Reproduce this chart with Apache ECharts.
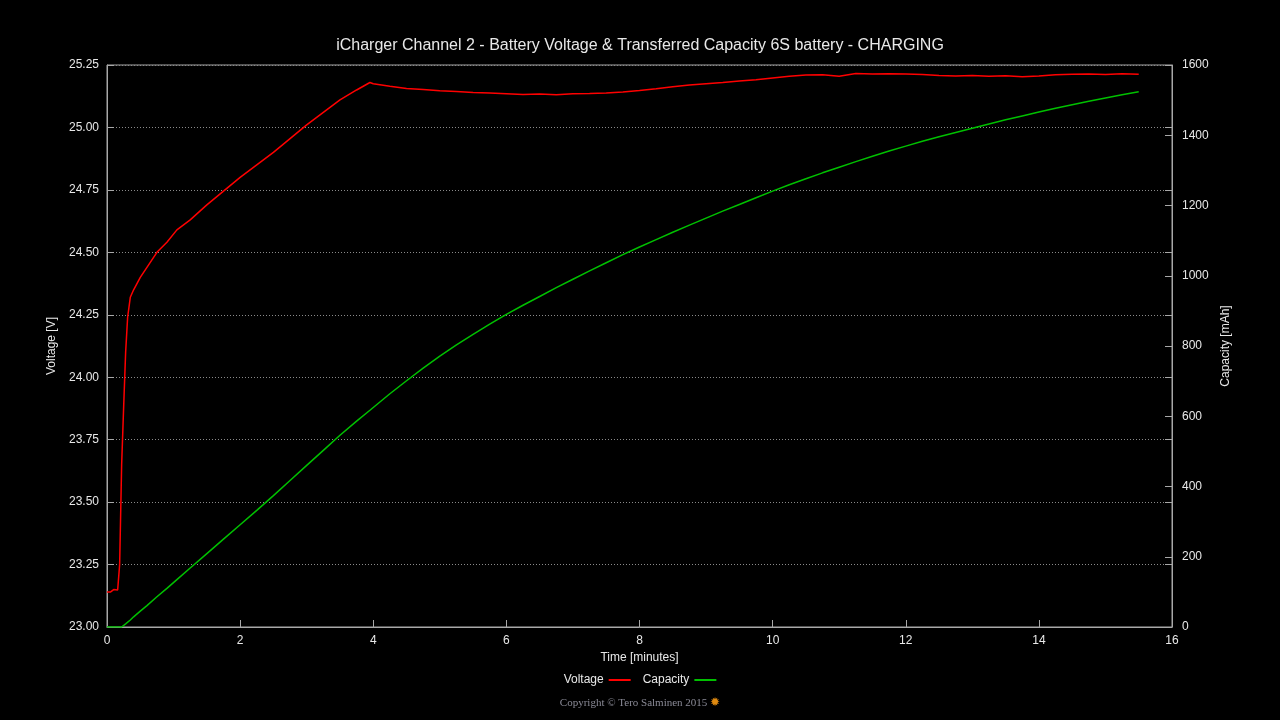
<!DOCTYPE html>
<html>
<head>
<meta charset="utf-8">
<script src="https://cdn.jsdelivr.net/npm/echarts@6/dist/echarts.min.js"></script>
<style>
html,body{margin:0;padding:0;background:#000;}
#c{width:1280px;height:720px;}
</style>
</head>
<body>
<div id="c"></div>
<script>
var titleText = 'iCharger Channel 2 - Battery Voltage & Transferred Capacity 6S battery - CHARGING';
var xName = 'Time [minutes]';
var yName = 'Voltage [V]';
var y2Name = 'Capacity [mAh]';
var seriesNames = ['Voltage', 'Capacity'];

var times = [0, 0.05, 0.1, 0.13, 0.16, 0.19, 0.22, 0.25, 0.28, 0.31, 0.35, 0.4, 0.5, 0.6, 0.75, 0.9, 1.05, 1.25,
  1.5, 1.75, 2, 2.25, 2.5, 2.75, 3, 3.25, 3.5, 3.75, 3.95, 4, 4.25, 4.5, 4.75, 5, 5.25, 5.5, 5.75, 6, 6.25,
  6.5, 6.75, 7, 7.25, 7.5, 7.75, 8, 8.25, 8.5, 8.75, 9, 9.25, 9.5, 9.75, 10, 10.25, 10.5, 10.75, 11, 11.25,
  11.5, 11.75, 12, 12.25, 12.5, 12.75, 13, 13.25, 13.5, 13.75, 14, 14.25, 14.5, 14.75, 15, 15.25, 15.5];

var voltage = [23.14, 23.14, 23.15, 23.155, 23.148, 23.25, 23.65, 23.88, 24.10, 24.24, 24.32, 24.35, 24.40, 24.44,
  24.50, 24.54, 24.59, 24.63, 24.69, 24.745, 24.80, 24.85, 24.90, 24.955, 25.01, 25.06, 25.11, 25.15, 25.18,
  25.175, 25.165, 25.156, 25.152, 25.147, 25.144, 25.140, 25.138, 25.135, 25.132, 25.134, 25.131, 25.135,
  25.136, 25.138, 25.142, 25.148, 25.155, 25.163, 25.170, 25.175, 25.180, 25.186, 25.191, 25.198, 25.205,
  25.210, 25.211, 25.205, 25.216, 25.214, 25.215, 25.214, 25.212, 25.208, 25.206, 25.208, 25.205, 25.207,
  25.203, 25.206, 25.211, 25.213, 25.214, 25.212, 25.215, 25.213];

var capacity = [0, 0, 0, 0, 0, 0, 0, 4, 9, 14, 20, 29, 45, 61, 86, 110, 135, 168, 209, 250, 291, 332, 374, 417,
  460, 503, 546, 586, 617, 625, 664, 701, 737, 771, 803, 833, 862, 890, 916, 941, 966, 990, 1014, 1037, 1060,
  1082, 1103, 1124, 1144, 1164, 1184, 1203, 1222, 1241, 1259, 1276, 1293, 1309, 1325, 1340, 1355, 1369, 1383,
  1396, 1408, 1420, 1432, 1444, 1455, 1466, 1477, 1487, 1497, 1506, 1515, 1524];

var copyrightText = 'Copyright \u00A9 Tero Salminen 2015 ';
var copyrightIcon = '\u2739';

var FONT = '"Liberation Sans", Arial, sans-serif';
var TXT = '#e8e8e8';
var AX = '#a8a8a8';

function pairs(xs, ys){ return xs.map(function(x,i){ return [x, ys[i]]; }); }

var chart = echarts.init(document.getElementById('c'), null, {renderer:'canvas'});
chart.setOption({
  backgroundColor: '#000',
  animation: false,
  textStyle: {fontFamily: FONT},
  title: {
    text: titleText, left: 'center', top: 33,
    textStyle: {color: TXT, fontSize: 16, fontWeight: 'normal', fontFamily: FONT}
  },
  legend: {
    data: seriesNames, left: 'center', top: 669, align: 'right',
    itemWidth: 22, itemHeight: 2, itemGap: 12, icon: 'rect',
    textStyle: {color: TXT, fontSize: 12, fontFamily: FONT}
  },
  grid: {left: 107, right: 108, top: 65, bottom: 93, show: true, borderColor: AX, borderWidth: 1},
  xAxis: {
    type: 'value', min: 0, max: 16, interval: 2,
    name: xName, nameLocation: 'middle', nameGap: 24,
    nameTextStyle: {color: TXT, fontSize: 12, fontFamily: FONT},
    axisLine: {show: true, lineStyle: {color: AX}},
    axisTick: {show: true, inside: true, length: 7, lineStyle: {color: AX}},
    axisLabel: {color: TXT, fontSize: 12, margin: 8, fontFamily: FONT},
    splitLine: {show: false}
  },
  yAxis: [{
    type: 'value', min: 23, max: 25.25, interval: 0.25, position: 'left',
    name: yName, nameLocation: 'middle', nameGap: 48, nameRotate: 90,
    nameTextStyle: {color: TXT, fontSize: 12, fontFamily: FONT},
    axisLine: {show: true, lineStyle: {color: AX}},
    axisTick: {show: true, inside: true, length: 7, lineStyle: {color: AX}},
    axisLabel: {color: TXT, fontSize: 12, margin: 8, fontFamily: FONT,
      formatter: function(v){ return v.toFixed(2); }},
    splitLine: {show: true, lineStyle: {color: '#8a8a8a', type: [1, 2], width: 1}}
  }, {
    type: 'value', min: 0, max: 1600, interval: 200, position: 'right',
    name: y2Name, nameLocation: 'middle', nameGap: 40, nameRotate: 90,
    nameTextStyle: {color: TXT, fontSize: 12, fontFamily: FONT},
    axisLine: {show: true, lineStyle: {color: AX}},
    axisTick: {show: true, inside: true, length: 7, lineStyle: {color: AX}},
    axisLabel: {color: TXT, fontSize: 12, margin: 10, fontFamily: FONT,
      formatter: function(v){ return String(v); }},
    splitLine: {show: false}
  }, {
    type: 'value', min: 23, max: 25.25, interval: 0.25, position: 'right',
    axisLine: {show: false},
    axisTick: {show: true, inside: true, length: 7, lineStyle: {color: AX}},
    axisLabel: {show: false},
    splitLine: {show: false}
  }],
  series: [{
    name: seriesNames[0], type: 'line', yAxisIndex: 0, showSymbol: false, symbol: 'none',
    data: pairs(times, voltage),
    lineStyle: {color: '#ff0000', width: 1.5}, itemStyle: {color: '#ff0000'}
  }, {
    name: seriesNames[1], type: 'line', yAxisIndex: 1, showSymbol: false, symbol: 'none',
    data: pairs(times, capacity),
    lineStyle: {color: '#00c000', width: 1.5}, itemStyle: {color: '#00c000'}
  }],
  graphic: [{
    type: 'text', left: 'center', top: 697,
    style: {
      text: '{a|' + copyrightText + '}{b|' + copyrightIcon + '}',
      rich: {
        a: {fill: '#8a8a96', fontSize: 11, fontFamily: '"Liberation Serif", "DejaVu Serif", serif'},
        b: {fill: '#e08a10', fontSize: 12, fontFamily: '"DejaVu Sans", sans-serif'}
      }
    }
  }]
});
</script>
</body>
</html>
